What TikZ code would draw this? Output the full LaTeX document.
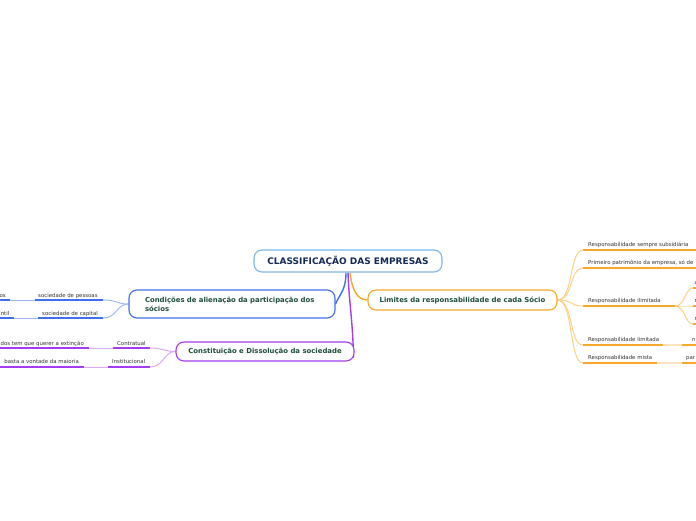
\documentclass[tikz,border=0pt]{standalone}
\usepackage{fontspec}
\setmainfont{DejaVu Sans}
\usetikzlibrary{calc}
\definecolor{rootc}{HTML}{7DB7E8}
\definecolor{roottext}{HTML}{152A57}
\definecolor{boxtext}{HTML}{1D4D3A}
\definecolor{subtext}{HTML}{333333}
\definecolor{bluem}{HTML}{3F6EF0}
\definecolor{bluel}{HTML}{A2BBF8}
\definecolor{purm}{HTML}{A43CF2}
\definecolor{purl}{HTML}{DBA9FA}
\definecolor{orm}{HTML}{F7A72A}
\definecolor{orl}{HTML}{FFCF85}
\definecolor{org}{HTML}{FDE3C0}
\pgfdeclarelayer{bg}
\pgfsetlayers{bg,main}
\tikzset{
  box/.style={draw, rounded corners=8pt, line width=1.1pt, fill=white, text=boxtext,
    font=\bfseries\fontsize{6.9}{9}\selectfont, inner sep=0pt},
  sub/.style={font=\fontsize{5.4}{6}\selectfont, text=subtext, anchor=base west, inner sep=0pt},
  subr/.style={sub, anchor=base east},
  uline/.style={line width=2pt},
  link/.style={line width=1pt},
  trunk/.style={line width=1.4pt},
}
\begin{document}
\begin{tikzpicture}[x=1pt,y=-1pt]
\useasboundingbox (0,0) rectangle (696,520);
\clip (0,0) rectangle (696,520);

% main boxes
\node[box, draw=rootc, text=roottext, font=\bfseries\fontsize{9}{11}\selectfont,
  minimum width=188pt, minimum height=22pt] (root) at (348,261) {CLASSIFICAÇÃO DAS EMPRESAS};
\node[box, draw=bluem, text width=174pt, inner xsep=16pt, align=left, minimum height=28pt]
  (cond) at (232,304) {Condições de alienação da participação dos\\sócios};
\node[box, draw=purm, minimum width=178pt, minimum height=19pt]
  (const) at (265,351.5) {Constituição e Dissolução da sociedade};
\node[box, draw=orm, minimum width=189pt, minimum height=20pt]
  (lim) at (462.5,300) {Limites da responsabilidade de cada Sócio};

% blue subtopics
\node[sub] (sp) at (38,297) {sociedade de pessoas};
\coordinate (sp1) at (103,300); \coordinate (sp0) at (35,300);
\node[subr] (os) at (6,297) {os};
\coordinate (os1) at (10,300); \coordinate (os0) at (-2,300);
\node[sub] (sc) at (42,315) {sociedade de capital};
\coordinate (sc1) at (103,318); \coordinate (sc0) at (38,318);
\node[subr] (nt) at (9.5,315) {ntil};
\coordinate (nt1) at (14,318); \coordinate (nt0) at (-2,318);

% purple subtopics
\node[sub] (ct) at (117,345) {Contratual};
\coordinate (ct1) at (150,348); \coordinate (ct0) at (113,348);
\node[subr] (ex) at (84,345) {dos tem que querer a extinção};
\coordinate (ex1) at (89,348); \coordinate (ex0) at (-2,348);
\node[sub] (in) at (112,363.5) {Institucional};
\coordinate (in1) at (150,367); \coordinate (in0) at (108,367);
\node[subr] (vm) at (79,363.5) {basta a vontade da maioria};
\coordinate (vm1) at (84,367); \coordinate (vm0) at (-2,367);

% orange subtopics
\node[sub] (r1) at (588,246.5) {Responsabilidade sempre subsidiária};
\coordinate (r1a) at (583,250); \coordinate (r1b) at (698,250);
\node[sub] (r2) at (588,264.5) {Primeiro patrimônio da empresa, só de};
\coordinate (r2a) at (583,268); \coordinate (r2b) at (698,268);
\node[sub] (r3) at (588,302.5) {Responsabilidade ilimitada};
\coordinate (r3a) at (583,306); \coordinate (r3b) at (675,306);
\node[sub] (r31) at (694.5,284.5) {a};
\coordinate (r31a) at (693,288); \coordinate (r31b) at (698,288);
\node[sub] (r32) at (694.5,302.5) {n};
\coordinate (r32a) at (693,306); \coordinate (r32b) at (698,306);
\node[sub] (r33) at (694.5,320.5) {n};
\coordinate (r33a) at (693,324); \coordinate (r33b) at (698,324);
\node[sub] (r4) at (588,341.5) {Responsabilidade limitada};
\coordinate (r4a) at (583,345); \coordinate (r4b) at (663,345);
\node[sub] (r41) at (692,341.5) {n};
\coordinate (r41a) at (682,345); \coordinate (r41b) at (698,345);
\node[sub] (r5) at (588,359.5) {Responsabilidade mista};
\coordinate (r5a) at (583,363); \coordinate (r5b) at (657,363);
\node[sub] (r51) at (686,359.5) {par};
\coordinate (r51a) at (682,363); \coordinate (r51b) at (698,363);

\begin{pgfonlayer}{bg}
% trunks from root
\draw[trunk, bluem] ([xshift=-2pt]root.south) .. controls +(0,18) and +(4,-10) .. (cond.east);
\draw[trunk, purm] ([xshift=0pt]root.south) .. controls +(1,30) and +(-1,-40) .. ([xshift=-1pt,yshift=-6pt]const.east);
\draw[trunk, orm] ([xshift=2pt]root.south) .. controls +(2,18) and +(-10,0) .. (lim.west);

% blue
\draw[uline, bluem] (sp0) -- (sp1);
\draw[uline, bluem] (os0) -- (os1);
\draw[link, bluel] (os1) -- (sp0);
\draw[link, bluel] (sp1) .. controls +(14,0) and +(-12,0) .. (cond.west);
\draw[uline, bluem] (sc0) -- (sc1);
\draw[uline, bluem] (nt0) -- (nt1);
\draw[link, bluel] (nt1) -- (sc0);
\draw[link, bluel] (sc1) .. controls +(14,0) and +(-12,0) .. (cond.west);

% purple
\draw[uline, purm] (ct0) -- (ct1);
\draw[uline, purm] (ex0) -- (ex1);
\draw[link, purl] (ex1) -- (ct0);
\draw[link, purl] (ct1) .. controls +(14,0) and +(-12,0) .. (const.west);
\draw[uline, purm] (in0) -- (in1);
\draw[uline, purm] (vm0) -- (vm1);
\draw[link, purl] (vm1) -- (in0);
\draw[link, purl] (in1) .. controls +(14,0) and +(-12,0) .. (const.west);

% orange
\foreach \t in {r1a,r2a,r3a,r4a,r5a}
  \draw[link, orl] (lim.east) .. controls +(16,0) and +(-14,0) .. (\t);
\draw[uline, orm] (r1a) -- (r1b);
\draw[uline, orm] (r2a) -- (r2b);
\draw[uline, orm] (r3a) -- (r3b);
\foreach \t in {r31a,r32a,r33a}
  \draw[link, orl] (r3b) .. controls +(10,0) and +(-8,0) .. (\t);
\draw[uline, orm] (r31a) -- (r31b);
\draw[uline, orm] (r32a) -- (r32b);
\draw[uline, orm] (r33a) -- (r33b);
\draw[uline, orm] (r4a) -- (r4b);
\draw[uline, org] (r4b) -- (r41a);
\draw[uline, orm] (r41a) -- (r41b);
\draw[uline, orm] (r5a) -- (r5b);
\draw[uline, org] (r5b) -- (r51a);
\draw[uline, orm] (r51a) -- (r51b);
\end{pgfonlayer}
\end{tikzpicture}
\end{document}
